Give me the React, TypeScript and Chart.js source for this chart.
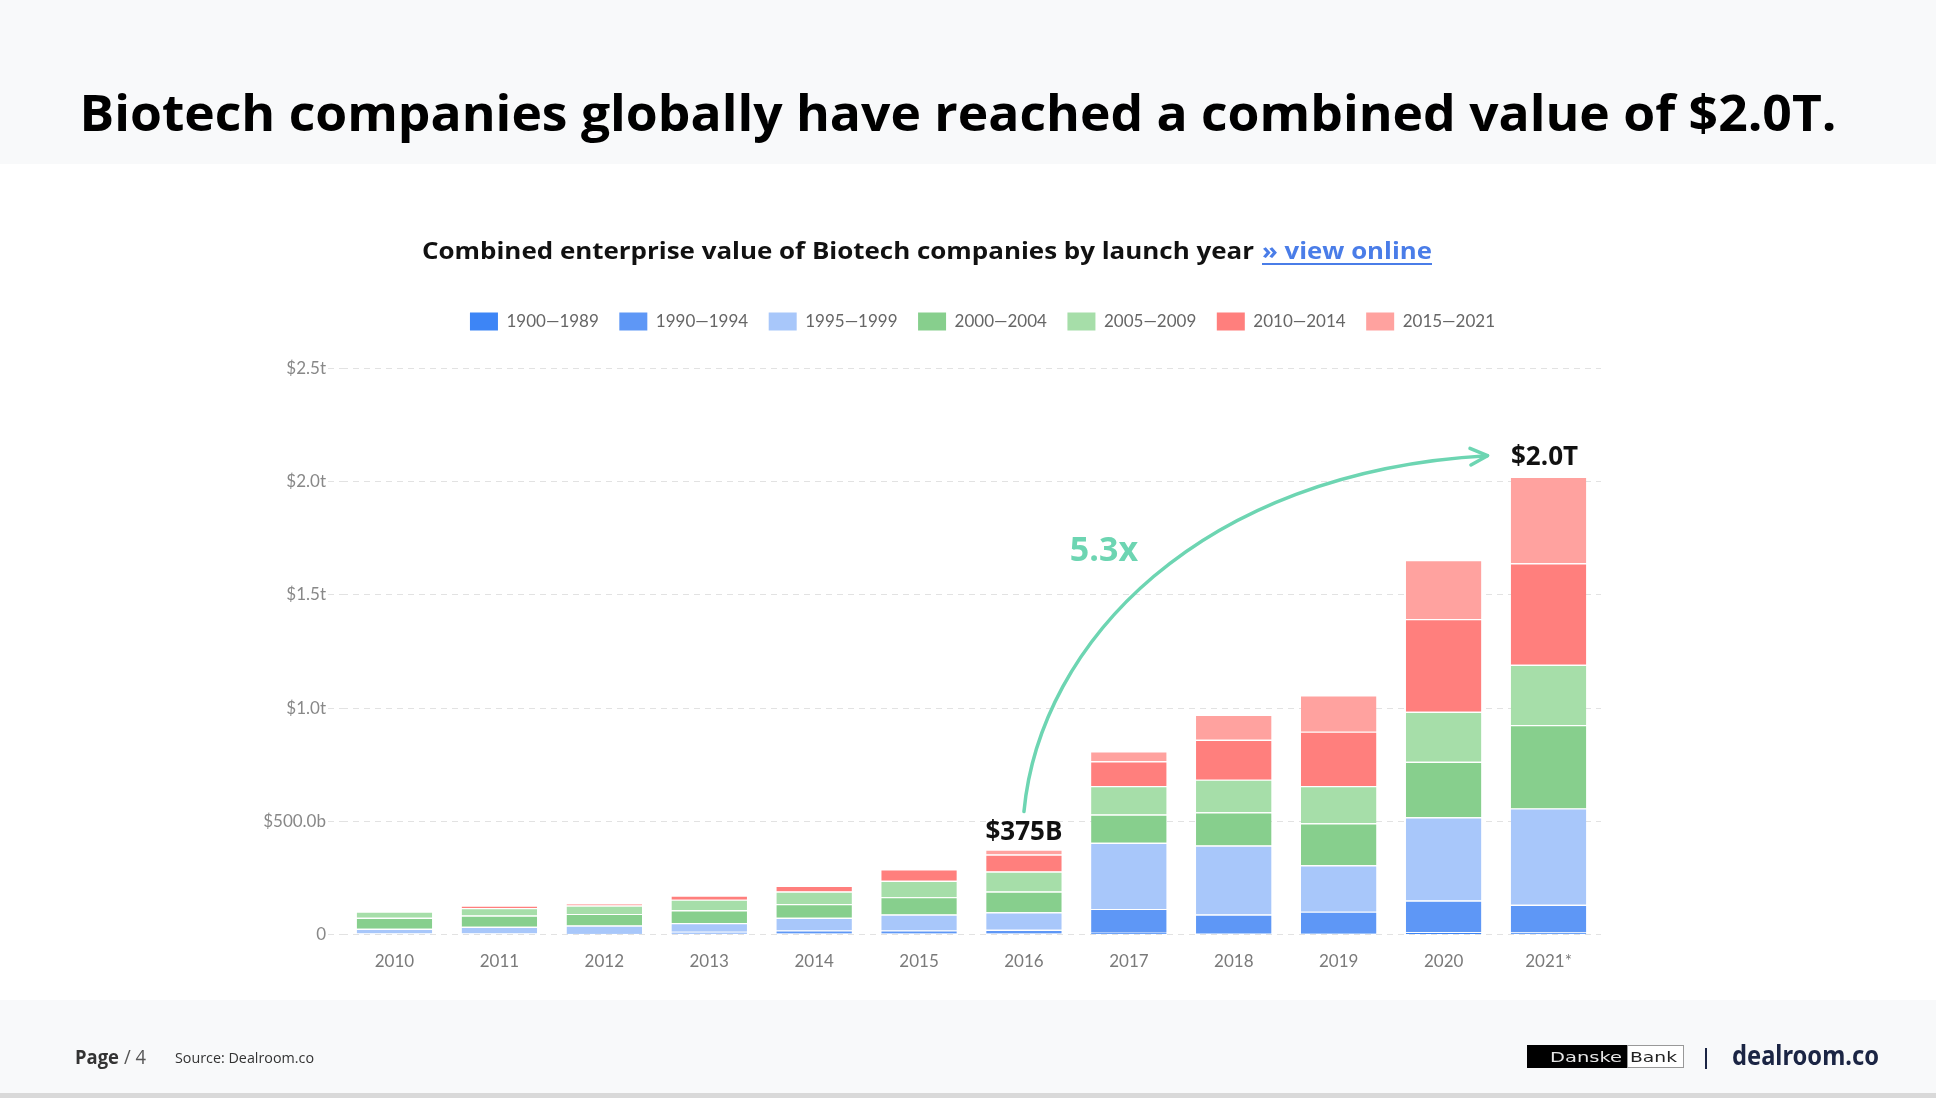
import React, { useEffect, useRef } from 'react';
import { Chart, registerables } from 'chart.js';

Chart.register(...registerables);

// ---------- data ----------
const YEARS = ['2010', '2011', '2012', '2013', '2014', '2015', '2016', '2017', '2018', '2019', '2020', '2021*'];
const SERIES_NAMES = ['1900—1989', '1990—1994', '1995—1999', '2000—2004', '2005—2009', '2010—2014', '2015—2021'];
// values in $ billions
const V_1900_1989 = [1, 1, 2, 3, 4, 4, 4, 8, 6, 7, 10, 9];
const V_1990_1994 = [3, 3, 5, 9, 14, 14, 17, 105, 82, 94, 140, 122];
const V_1995_1999 = [21, 30, 33, 39, 56, 70, 77, 292, 305, 205, 368, 426];
const V_2000_2004 = [49, 50, 51, 56, 61, 77, 92, 125, 147, 185, 245, 368];
const V_2005_2009 = [27, 33, 37, 47, 55, 72, 88, 126, 144, 165, 221, 266];
const V_2010_2014 = [0, 11, 10, 18, 25, 51, 75, 109, 176, 240, 409, 449];
const V_2015_2021 = [0, 0, 0, 0, 0, 0, 22, 44, 110, 160, 261, 382];
const SERIES_VALUES = [V_1900_1989, V_1990_1994, V_1995_1999, V_2000_2004, V_2005_2009, V_2010_2014, V_2015_2021];
const SERIES_COLORS = ['#3d85f6', '#5e97f6', '#a8c7fa', '#87cf8d', '#a6dea9', '#ff7f7d', '#ffa29f'];

const Y_TICK_VALUES = [0, 500, 1000, 1500, 2000, 2500];
const Y_TICK_LABELS = ['0', '$500.0b', '$1.0t', '$1.5t', '$2.0t', '$2.5t'];

const START_INDEX = 6;
const END_INDEX = 11;
const START_LABEL = '$375B';
const END_LABEL = '$2.0T';
const GROWTH_LABEL = '5.3x';

// ---------- layout ----------
const CANVAS_LEFT = 230;
const CANVAS_TOP = 290;
const CANVAS_W = 1400;
const CANVAS_H = 700;
const LEGEND_H = 76.5;
const TEAL = '#6dd5b2';

export default function App() {
  const ref = useRef<HTMLCanvasElement>(null);

  useEffect(() => {
    if (!ref.current) return;
    const defaultGen = (Chart.defaults as any).plugins.legend.labels.generateLabels;

    const legendFix = {
      id: 'legendFix',
      beforeLayout(chart: any) {
        const lg = chart.legend;
        if (lg && !lg.__patched) {
          const orig = lg.fit.bind(lg);
          lg.fit = function () {
            orig();
            this.height = LEGEND_H;
          };
          lg.__patched = true;
        }
      },
      afterLayout(chart: any) {
        const lg = chart.legend;
        if (lg) {
          lg.left += 11;
          lg.right += 11;
        }
      },
    };

    const annot = {
      id: 'annot',
      afterDatasetsDraw(chart: any) {
        const ctx = chart.ctx as CanvasRenderingContext2D;
        const xs = chart.scales.x;
        const ys = chart.scales.y;
        const totals = YEARS.map((_, i) => SERIES_VALUES.reduce((s, a) => s + a[i], 0));
        const sx = xs.getPixelForValue(START_INDEX);
        const sTop = ys.getPixelForValue(totals[START_INDEX]);
        const ex = xs.getPixelForValue(END_INDEX);
        const eTop = ys.getPixelForValue(totals[END_INDEX]);
        ctx.save();
        ctx.fillStyle = '#111';
        ctx.textAlign = 'center';
        ctx.textBaseline = 'alphabetic';
        ctx.font = '700 26px "Open Sans"';
        ctx.fillText(START_LABEL, sx, sTop - 10);
        ctx.fillText(END_LABEL, ex - 4, eTop - 12);

        const p0 = { x: sx, y: sTop - 38 };
        const p3 = { x: ex - 61, y: eTop - 21 };
        const p1 = { x: p0.x + 16, y: p0.y - 169 };
        const p2 = { x: p0.x + 176, y: p3.y + 16 };
        ctx.strokeStyle = TEAL;
        ctx.lineWidth = 3.5;
        ctx.lineCap = 'round';
        ctx.lineJoin = 'round';
        ctx.beginPath();
        ctx.moveTo(p0.x, p0.y);
        ctx.bezierCurveTo(p1.x, p1.y, p2.x, p2.y, p3.x, p3.y);
        ctx.stroke();
        const ang = Math.atan2(p3.y - p2.y, p3.x - p2.x);
        const hl = 19;
        ctx.beginPath();
        ctx.moveTo(p3.x - hl * Math.cos(ang - 0.45), p3.y - hl * Math.sin(ang - 0.45));
        ctx.lineTo(p3.x, p3.y);
        ctx.lineTo(p3.x - hl * Math.cos(ang + 0.45), p3.y - hl * Math.sin(ang + 0.45));
        ctx.stroke();

        ctx.fillStyle = TEAL;
        ctx.font = '700 34px "Open Sans"';
        ctx.textBaseline = 'middle';
        ctx.fillText(GROWTH_LABEL, sx + 80, p3.y + 96);
        ctx.restore();
      },
    };

    const chart = new Chart(ref.current, {
      type: 'bar',
      data: {
        labels: YEARS,
        datasets: SERIES_NAMES.map((name, i) => ({
          label: name,
          data: SERIES_VALUES[i],
          backgroundColor: SERIES_COLORS[i],
          borderColor: '#ffffff',
          borderWidth: { top: 1.2, left: 0, right: 0, bottom: 0 },
          borderSkipped: false,
          barPercentage: 0.72,
          categoryPercentage: 1,
        })),
      },
      options: {
        animation: false,
        responsive: false,
        maintainAspectRatio: false,
        layout: { padding: { top: 2, right: 29, bottom: 15.5, left: 0 } },
        plugins: {
          tooltip: { enabled: false },
          legend: {
            position: 'top',
            fullSize: false,
            labels: {
              boxWidth: 28,
              boxHeight: 18,
              padding: 20.5,
              color: '#666',
              font: { family: 'Lato', size: 17 },
              generateLabels: (c: any) => defaultGen(c).map((l: any) => ({ ...l, lineWidth: 0, strokeStyle: 'rgba(0,0,0,0)' })),
            },
          },
        },
        scales: {
          x: {
            stacked: true,
            grid: { display: false },
            border: { display: false },
            ticks: { color: '#7a7a7a', font: { family: 'Lato', size: 17 }, padding: 9, maxRotation: 0 },
            afterFit: (s: any) => { s.height = 40; },
          },
          y: {
            stacked: true,
            min: 0,
            max: 2500,
            afterBuildTicks: (s: any) => { s.ticks = Y_TICK_VALUES.map((v) => ({ value: v })); },
            ticks: {
              color: '#888',
              font: { family: 'Lato', size: 17 },
              padding: 2,
              callback: (v: any) => {
                const idx = Y_TICK_VALUES.indexOf(Number(v));
                return idx >= 0 ? Y_TICK_LABELS[idx] : '';
              },
            },
            grid: {
              color: '#e2e2e2',
              lineWidth: 1,
              drawTicks: true,
              tickLength: 14,
              tickColor: '#e2e2e2',
              tickBorderDash: [6, 5],
            },
            border: { display: false, dash: [6, 5] },
            afterFit: (s: any) => { s.width = 112; },
          },
        },
      },
      plugins: [legendFix, annot],
    } as any);

    return () => chart.destroy();
  }, []);

  const page: React.CSSProperties = {
    position: 'absolute', left: 0, top: 0, width: 1936, height: 1098, background: '#ffffff', overflow: 'hidden',
  };

  return (
    <div style={page}>
      <div style={{ position: 'absolute', left: 0, top: 0, width: 1936, height: 164, background: '#f8f9fa' }} />
      <div style={{ position: 'absolute', left: 0, top: 1000, width: 1936, height: 93, background: '#f8f9fa' }} />
      <div style={{ position: 'absolute', left: 0, top: 1093, width: 1936, height: 5, background: '#d9d9d9' }} />
      <canvas
        ref={ref}
        width={CANVAS_W}
        height={CANVAS_H}
        style={{ position: 'absolute', left: CANVAS_LEFT, top: CANVAS_TOP, width: CANVAS_W, height: CANVAS_H }}
      />
      <svg
        width={1936}
        height={1098}
        style={{ position: 'absolute', left: 0, top: 0, pointerEvents: 'none' }}
      >
        <text x={958} y={131} textAnchor="middle" fontFamily="Open Sans" fontWeight={700} fontSize={50}
          textLength={1757} lengthAdjust="spacingAndGlyphs" fill="#000">
          Biotech companies globally have reached a combined value of $2.0T.
        </text>
        <text x={422} y={259} fontFamily="Open Sans" fontWeight={700} fontSize={23}
          textLength={832} lengthAdjust="spacingAndGlyphs" fill="#111">
          Combined enterprise value of Biotech companies by launch year
        </text>
        <text x={1262} y={259} fontFamily="Open Sans" fontWeight={700} fontSize={23}
          textLength={170} lengthAdjust="spacingAndGlyphs" fill="#4a7de8">
          » view online
        </text>
        <line x1={1262} y1={264} x2={1432} y2={264} stroke="#4a7de8" strokeWidth={2} />

        <text x={75} y={1064} fontFamily="Open Sans" fontWeight={700} fontSize={20}
          textLength={44} lengthAdjust="spacingAndGlyphs" fill="#333">Page</text>
        <text x={124} y={1064} fontFamily="Open Sans" fontWeight={400} fontSize={20}
          textLength={22} lengthAdjust="spacingAndGlyphs" fill="#555">/ 4</text>
        <text x={175} y={1063} fontFamily="Open Sans" fontWeight={400} fontSize={15}
          textLength={139} lengthAdjust="spacingAndGlyphs" fill="#333">Source: Dealroom.co</text>

        <rect x={1527} y={1045} width={100} height={23} fill="#000" />
        <text x={1550} y={1062} fontFamily="DejaVu Sans" fontSize={14}
          textLength={72} lengthAdjust="spacingAndGlyphs" fill="#e6e6e6">Danske</text>
        <rect x={1627.5} y={1045.5} width={56} height={22} fill="#fff" stroke="#999" strokeWidth={1} />
        <text x={1630} y={1062} fontFamily="DejaVu Sans" fontSize={14}
          textLength={47} lengthAdjust="spacingAndGlyphs" fill="#222">Bank</text>
        <line x1={1706} y1={1048} x2={1706} y2={1069} stroke="#1b2544" strokeWidth={2} />
        <text x={1732} y={1065} fontFamily="Noto Sans" fontWeight={700} fontSize={27}
          textLength={147} lengthAdjust="spacingAndGlyphs" fill="#1b2544">dealroom.co</text>
      </svg>
    </div>
  );
}
